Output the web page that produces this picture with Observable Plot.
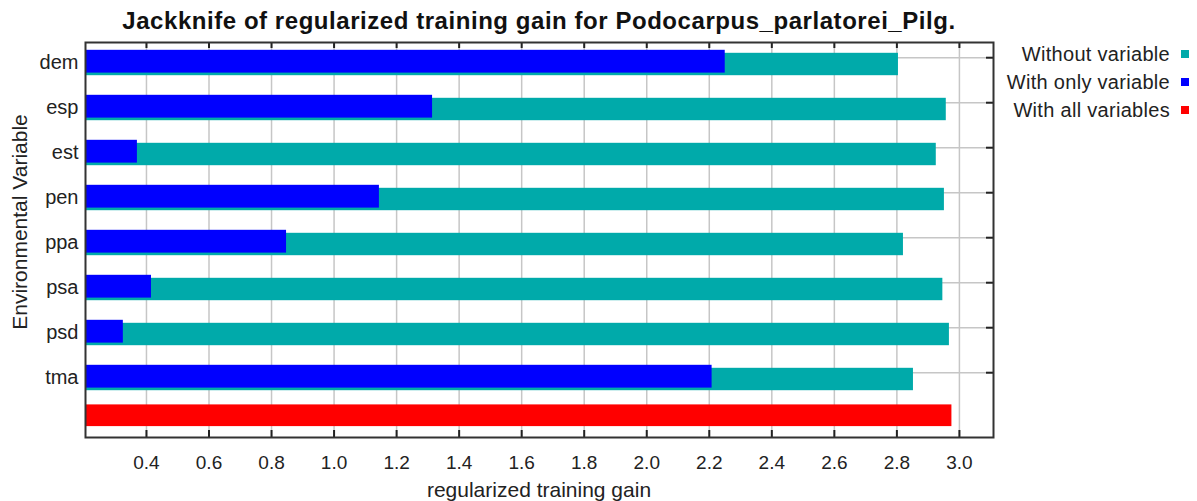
<!DOCTYPE html>
<html>
<head>
<meta charset="utf-8">
<script src="https://cdn.jsdelivr.net/npm/d3@7"></script>
<script src="https://cdn.jsdelivr.net/npm/@observablehq/plot@0.6"></script>
<style>
  html, body { margin: 0; padding: 0; background: #fff; }
  #wrap { position: relative; width: 1197px; height: 501px; font-family: "Liberation Sans", Arial, sans-serif; color: #222; }
  #wrap svg { position: absolute; left: 0; top: 0; }
  .title { position: absolute; left: 85px; width: 908px; top: 9px; line-height: 24px; text-align: center; font-weight: bold; font-size: 24px; letter-spacing: 0.55px; color: #111; white-space: nowrap; }
  .xlabel { position: absolute; left: 85px; width: 908px; top: 479px; line-height: 21px; text-align: center; font-size: 21px; white-space: nowrap; }
  .ylabel { position: absolute; left: 19px; top: 222px; line-height: 21px; transform: translate(-50%, -50%) rotate(-90deg); white-space: nowrap; font-size: 21px; }
  .legend { position: absolute; right: 8px; top: 43px; font-size: 20px; letter-spacing: 0.3px; }
  .legend div { height: 28px; line-height: 22px; text-align: right; white-space: nowrap; }
  .legend span.sw { display: inline-block; width: 8px; height: 8px; margin-left: 11px; vertical-align: 3px; }
</style>
</head>
<body>
<div id="wrap"></div>
<script>
// ---- data ----
const variables = ["dem", "esp", "est", "pen", "ppa", "psa", "psd", "tma"];
const withoutVariable = [2.805, 2.958, 2.926, 2.952, 2.821, 2.947, 2.968, 2.853];
const withOnlyVariable = [2.251, 1.315, 0.371, 1.145, 0.848, 0.416, 0.326, 2.209];
const withAllVariables = [2.976];
const allLabel = "all";
const xTicks = [0.4, 0.6, 0.8, 1.0, 1.2, 1.4, 1.6, 1.8, 2.0, 2.2, 2.4, 2.6, 2.8, 3.0];
const seriesNames = ["Without variable", "With only variable", "With all variables"];
const seriesColors = ["#00AAAA", "#0000FF", "#FF0000"];
const titleText = "Jackknife of regularized training gain for Podocarpus_parlatorei_Pilg.";
const xLabel = "regularized training gain";
const yLabel = "Environmental Variable";

// ---- tables ----
const without = variables.map((v, i) => ({variable: v, gain: withoutVariable[i]}));
const only = variables.map((v, i) => ({variable: v, gain: withOnlyVariable[i]}));
const all = withAllVariables.map(g => ({variable: allLabel, gain: g}));

const W = 1197, H = 501;
const mL = 85, mR = W - 993, mT = 42, mB = H - 437;
const plotH = H - mT - mB;
const plotW = W - mL - mR;

const chart = Plot.plot({
  width: W, height: H,
  marginLeft: mL, marginRight: mR, marginTop: mT, marginBottom: mB,
  style: {fontFamily: "'Liberation Sans', Arial, sans-serif", background: "transparent"},
  x: {domain: [0.205, 3.109], label: null},
  y: {type: "band", domain: [...variables, allLabel], range: [37.5, 447.9], padding: 0, label: null},
  marks: [
    Plot.ruleX(xTicks, {stroke: "#c6c6c6", strokeWidth: 1.5}),
    Plot.ruleY(variables, {y: d => d, dy: -5.3, stroke: "#c6c6c6", strokeWidth: 1.5}),
    Plot.barX(without, {x: "gain", y: "variable", fill: seriesColors[0], insetTop: 12.8, insetBottom: 9.8, clip: true}),
    Plot.barX(only, {x: "gain", y: "variable", fill: seriesColors[1], insetTop: 9.8, insetBottom: 12.4, clip: true}),
    Plot.barX(all, {x: "gain", y: "variable", fill: seriesColors[2], insetTop: 4.4, insetBottom: 18.9, clip: true}),
    Plot.ruleX(xTicks, {insetTop: plotH - 7, stroke: "#222", strokeWidth: 2}),
    Plot.ruleX(xTicks, {insetBottom: plotH - 6, stroke: "#222", strokeWidth: 2}),
    Plot.ruleY(variables, {y: d => d, dy: -5.3, insetLeft: plotW - 7, stroke: "#222", strokeWidth: 2}),
    Plot.frame({stroke: "#333", strokeWidth: 2}),
    Plot.axisX({ticks: xTicks, tickSize: 0, tickPadding: 18, tickFormat: d3.format(".1f"), fontSize: 19, fill: "#222", label: null, style: {letterSpacing: "0.8px"}}),
    Plot.axisY({tickSize: 0, tickPadding: 7, fontSize: 20, fill: "#222", tickFormat: d => d === allLabel ? "" : d, label: null, style: {letterSpacing: "0.4px"}})
  ]
});

const wrap = document.getElementById("wrap");
wrap.appendChild(chart);

const t = document.createElement("div"); t.className = "title"; t.textContent = titleText; wrap.appendChild(t);
const xl = document.createElement("div"); xl.className = "xlabel"; xl.textContent = xLabel; wrap.appendChild(xl);
const yl = document.createElement("div"); yl.className = "ylabel"; yl.textContent = yLabel; wrap.appendChild(yl);
const lg = document.createElement("div"); lg.className = "legend";
seriesNames.forEach((n, i) => {
  const row = document.createElement("div");
  row.appendChild(document.createTextNode(n));
  const sw = document.createElement("span"); sw.className = "sw"; sw.style.background = seriesColors[i];
  row.appendChild(sw);
  lg.appendChild(row);
});
wrap.appendChild(lg);
</script>
</body>
</html>
